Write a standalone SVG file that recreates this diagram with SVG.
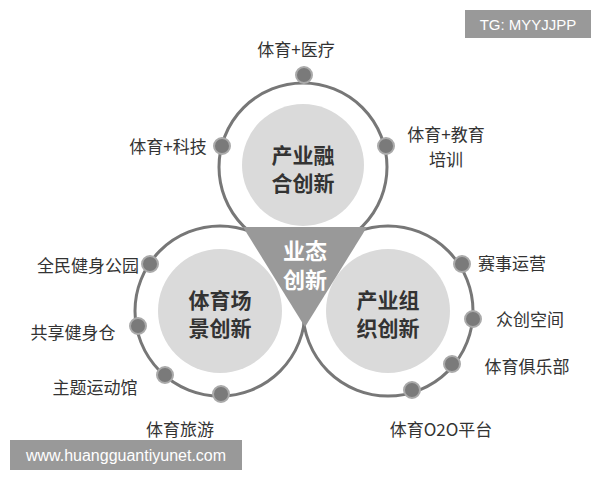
<svg xmlns="http://www.w3.org/2000/svg" width="600" height="480" viewBox="0 0 600 480">
<style>
.ring{fill:#fff;stroke:#777;stroke-width:3}
.inner{fill:#dadada}
.dot{fill:#7a7a7a;stroke:#aaa;stroke-width:2}
text{font-family:"Noto Sans CJK SC","Noto Sans",sans-serif}
.lb{font-size:17px;fill:#333}
.ct{font-size:21px;font-weight:bold;fill:#333;text-anchor:middle}
.wm{font-size:15px;fill:#fff}
</style>
<rect width="600" height="480" fill="#fff"/>
<g id="rings">
<circle class="ring" cx="303" cy="167" r="84"/>
<circle class="ring" cx="220" cy="311" r="85"/>
<circle class="ring" cx="388" cy="311" r="85"/>
</g>
<g id="top"><circle class="inner" cx="303" cy="165" r="61"/><text class="ct" x="303" y="163">产业融</text><text class="ct" x="303" y="191">合创新</text></g>
<g id="left"><circle class="inner" cx="220" cy="311" r="62"/><text class="ct" x="220" y="308">体育场</text><text class="ct" x="220" y="336">景创新</text></g>
<g id="right"><circle class="inner" cx="388" cy="311" r="62"/><text class="ct" x="388" y="308">产业组</text><text class="ct" x="388" y="336">织创新</text></g>
<g id="center"><polygon points="243,227 367,227 305,327" fill="#999"/><text class="ct" x="305" y="259" style="fill:#fff;font-size:22px">业态</text><text class="ct" x="305" y="288" style="fill:#fff;font-size:22px">创新</text></g>
<g id="connectors">
<circle class="dot" cx="304" cy="75" r="8"/>
<circle class="dot" cx="222" cy="146" r="8"/>
<circle class="dot" cx="386" cy="146" r="8"/>
<circle class="dot" cx="150" cy="264" r="8"/>
<circle class="dot" cx="138" cy="326" r="8"/>
<circle class="dot" cx="165" cy="375" r="8"/>
<circle class="dot" cx="221" cy="394" r="8"/>
<circle class="dot" cx="462" cy="264" r="8"/>
<circle class="dot" cx="473" cy="319" r="8"/>
<circle class="dot" cx="452" cy="364" r="8"/>
<circle class="dot" cx="412" cy="390" r="8"/>
</g>
<g id="labels">
<text class="lb" x="296" y="56" text-anchor="middle">体育+医疗</text>
<text class="lb" x="168" y="153" text-anchor="middle">体育+科技</text>
<text class="lb" x="446" y="141" text-anchor="middle">体育+教育</text>
<text class="lb" x="446" y="166" text-anchor="middle">培训</text>
<text class="lb" x="88" y="272" text-anchor="middle">全民健身公园</text>
<text class="lb" x="73" y="339" text-anchor="middle">共享健身仓</text>
<text class="lb" x="95" y="394" text-anchor="middle">主题运动馆</text>
<text class="lb" x="180" y="436" text-anchor="middle">体育旅游</text>
<text class="lb" x="512" y="270" text-anchor="middle">赛事运营</text>
<text class="lb" x="530" y="326" text-anchor="middle">众创空间</text>
<text class="lb" x="527" y="373" text-anchor="middle">体育俱乐部</text>
<text class="lb" x="441" y="436" text-anchor="middle">体育O2O平台</text>
</g>
<g id="watermarks">
<rect x="465" y="10" width="126" height="28" fill="#999"/>
<text class="wm" x="528" y="30" text-anchor="middle" style="font-family:'Liberation Sans',sans-serif">TG: MYYJJPP</text>
<rect x="10" y="440" width="232" height="30" fill="#999"/>
<text class="wm" x="126" y="461" text-anchor="middle" style="font-family:'Liberation Sans',sans-serif;font-size:16px">www.huangguantiyunet.com</text>
</g>
</svg>
